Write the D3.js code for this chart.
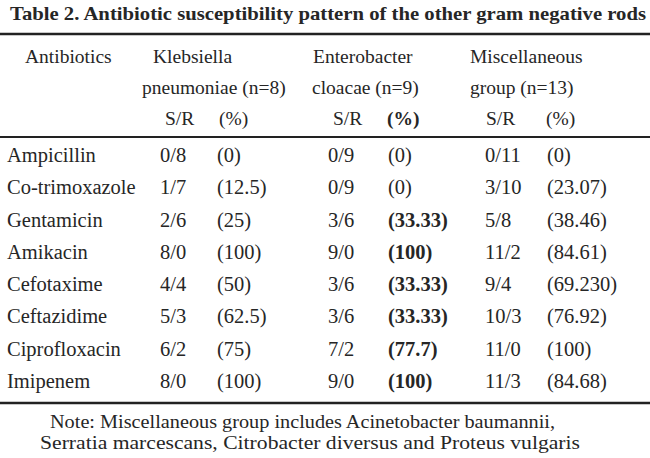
<!DOCTYPE html>
<html>
<head>
<meta charset="utf-8">
<script src="https://cdn.jsdelivr.net/npm/d3@7"></script>
<style>
  body { margin: 0; background: #fff; }
  text { font-family: "Liberation Serif", "Times New Roman", serif; fill: #262626; }
</style>
</head>
<body>
<div id="table"></div>
<script>
// table content
let title = "Table 2. Antibiotic susceptibility pattern of the other gram negative rods";
let antibiotics = ["Ampicillin", "Co-trimoxazole", "Gentamicin", "Amikacin",
                   "Cefotaxime", "Ceftazidime", "Ciprofloxacin", "Imipenem"];

let klebS = [0, 1, 2, 8, 4, 5, 6, 8];
let klebR = [8, 7, 6, 0, 4, 3, 2, 0];
let klebPct = ["0", "12.5", "25", "100", "50", "62.5", "75", "100"];

let enteroS = [0, 0, 3, 9, 3, 3, 7, 9];
let enteroR = [9, 9, 6, 0, 6, 6, 2, 0];
let enteroPct = ["0", "0", "33.33", "100", "33.33", "33.33", "77.7", "100"];

let miscS = [0, 3, 5, 11, 9, 10, 11, 11];
let miscR = [11, 10, 8, 2, 4, 3, 0, 3];
let miscPct = ["0", "23.07", "38.46", "84.61", "69.230", "76.92", "100", "84.68"];

let groupLine1 = ["Klebsiella", "Enterobacter", "Miscellaneous"];
let groupLine2 = ["pneumoniae (n=8)", "cloacae (n=9)", "group (n=13)"];
let notes = ["Note: Miscellaneous group includes Acinetobacter baumannii,",
             "Serratia marcescans,  Citrobacter diversus and Proteus vulgaris"];

let width = 650;
let height = 458;

let svg = d3.select("#table")
            .append("svg")
            .attr("width", width)
            .attr("height", height);

// column x positions
let cols = ["name", "kSR", "kPct", "eSR", "ePct", "mSR", "mPct"];
let xCol = d3.scaleOrdinal()
             .domain(cols)
             .range([7, 160, 217, 328, 388, 485, 547]);

// header x positions per group
let xGroup = d3.scaleOrdinal()
               .domain(groupLine1)
               .range([[153, 142], [313, 312], [470, 470]]);

// row baselines
let yRow = d3.scalePoint()
             .domain(antibiotics)
             .range([162, 388]);

// title
svg.append("text")
   .attr("x", 10)
   .attr("y", 20)
   .attr("font-size", 19)
   .attr("font-weight", "bold")
   .attr("textLength", 636)
   .attr("lengthAdjust", "spacingAndGlyphs")
   .text(title);

// rules
[34, 137, 403].forEach((y, i) => {
    svg.append("line")
       .attr("x1", 0).attr("x2", width)
       .attr("y1", y).attr("y2", y)
       .attr("stroke", "#222")
       .attr("stroke-width", i == 1 ? 2 : 2.5);
});

// header
svg.append("text").attr("x", 25).attr("y", 63).attr("font-size", 19.5).text("Antibiotics");

groupLine1.forEach((g, i) => {
    svg.append("text").attr("x", xGroup(g)[0]).attr("y", 63).attr("font-size", 19.5).text(g);
    svg.append("text").attr("x", xGroup(g)[1]).attr("y", 94).attr("font-size", 19.5).text(groupLine2[i]);
});

let subHeads = [
    {x: 165, t: "S/R", b: false}, {x: 219, t: "(%)", b: false},
    {x: 333, t: "S/R", b: false}, {x: 387, t: "(%)", b: true},
    {x: 486, t: "S/R", b: false}, {x: 546, t: "(%)", b: false}
];
svg.selectAll(".sub")
   .data(subHeads)
   .enter()
   .append("text")
   .attr("class", "sub")
   .attr("x", d => d.x)
   .attr("y", 125)
   .attr("font-size", 19.5)
   .attr("font-weight", d => d.b ? "bold" : "normal")
   .text(d => d.t);

// body rows
let rows = svg.selectAll(".row")
              .data(antibiotics)
              .enter()
              .append("g")
              .attr("class", "row")
              .attr("transform", d => `translate(0, ${yRow(d)})`);

function cell(key, fn, bold) {
    rows.append("text")
        .attr("x", xCol(key))
        .attr("font-size", 20.5)
        .attr("font-weight", (d, i) => bold && bold(i) ? "bold" : "normal")
        .text((d, i) => fn(d, i));
}

cell("name", d => d);
cell("kSR", (d, i) => `${klebS[i]}/${klebR[i]}`);
cell("kPct", (d, i) => `(${klebPct[i]})`);
cell("eSR", (d, i) => `${enteroS[i]}/${enteroR[i]}`);
cell("ePct", (d, i) => `(${enteroPct[i]})`, i => +enteroPct[i] > 0);
cell("mSR", (d, i) => `${miscS[i]}/${miscR[i]}`);
cell("mPct", (d, i) => `(${miscPct[i]})`);

// note
let noteLen = [505, 540];
svg.selectAll(".note")
   .data(notes)
   .enter()
   .append("text")
   .attr("class", "note")
   .attr("x", (d, i) => i == 0 ? 50 : 40)
   .attr("y", (d, i) => 428 + i * 21)
   .attr("font-size", 19)
   .attr("textLength", (d, i) => noteLen[i])
   .attr("lengthAdjust", "spacingAndGlyphs")
   .text(d => d);
</script>
</body>
</html>
